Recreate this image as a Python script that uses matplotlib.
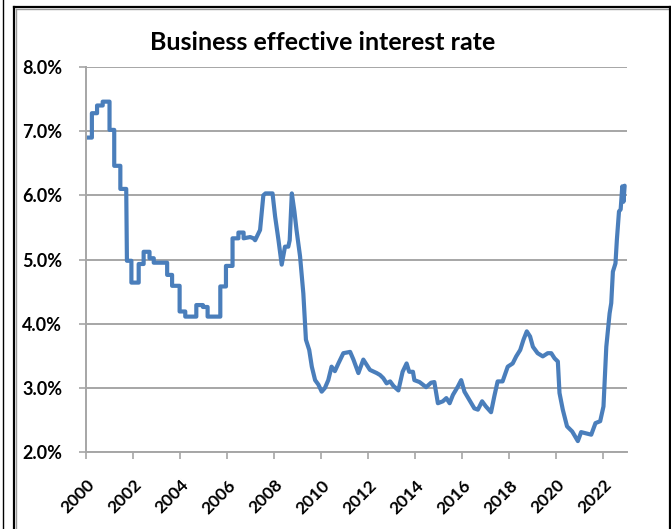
import matplotlib
matplotlib.use("Agg")
import matplotlib.pyplot as plt
from matplotlib.lines import Line2D
from matplotlib.ticker import FuncFormatter

# ---- data (decimal year, percent) ----
dates = [2000.0, 2000.25, 2000.25, 2000.47, 2000.47, 2000.71, 2000.71, 2001.0, 2001.0, 2001.2,
         2001.2, 2001.46, 2001.46, 2001.71, 2001.74, 2001.93, 2001.93, 2002.24, 2002.24, 2002.45,
         2002.45, 2002.7, 2002.7, 2002.88, 2002.88, 2003.45, 2003.45, 2003.66, 2003.66, 2003.98,
         2003.98, 2004.22, 2004.22, 2004.69, 2004.69, 2004.97, 2004.97, 2005.17, 2005.17, 2005.71,
         2005.71, 2005.95, 2005.95, 2006.23, 2006.23, 2006.48, 2006.48, 2006.7, 2006.7, 2006.98,
         2007.12, 2007.19, 2007.4, 2007.54, 2007.63, 2007.8, 2007.93, 2008.04, 2008.18, 2008.32,
         2008.46, 2008.6, 2008.66, 2008.75, 2008.86, 2008.95, 2009.1, 2009.24, 2009.35, 2009.49,
         2009.6, 2009.74, 2009.88, 2010.02, 2010.16, 2010.3, 2010.44, 2010.58, 2010.73, 2010.94,
         2011.23, 2011.37, 2011.58, 2011.79, 2012.07, 2012.36, 2012.5, 2012.64, 2012.78, 2012.93,
         2013.07, 2013.28, 2013.46, 2013.63, 2013.74, 2013.9, 2013.96, 2014.18, 2014.46, 2014.67,
         2014.81, 2014.96, 2015.17, 2015.32, 2015.46, 2015.6, 2015.81, 2015.95, 2016.09, 2016.3,
         2016.51, 2016.66, 2016.84, 2017.0, 2017.22, 2017.36, 2017.5, 2017.71, 2017.93, 2018.14,
         2018.29, 2018.46, 2018.6, 2018.74, 2018.88, 2019.0, 2019.2, 2019.42, 2019.63, 2019.78,
         2019.92, 2020.06, 2020.13, 2020.27, 2020.45, 2020.67, 2020.91, 2021.05, 2021.26, 2021.48,
         2021.66, 2021.86, 2022.0, 2022.12, 2022.26, 2022.33, 2022.4, 2022.51, 2022.57, 2022.66,
         2022.73, 2022.8, 2022.85, 2022.9]
rates = [6.90, 6.90, 7.28, 7.28, 7.40, 7.40, 7.46, 7.46, 7.02, 7.02,
         6.46, 6.46, 6.10, 6.10, 4.98, 4.98, 4.64, 4.64, 4.93, 4.93,
         5.12, 5.12, 5.02, 5.02, 4.95, 4.95, 4.76, 4.76, 4.59, 4.59,
         4.19, 4.19, 4.11, 4.11, 4.29, 4.29, 4.26, 4.26, 4.11, 4.11,
         4.58, 4.58, 4.90, 4.90, 5.33, 5.33, 5.42, 5.42, 5.33, 5.35,
         5.33, 5.30, 5.46, 6.00, 6.03, 6.03, 6.03, 5.67, 5.31, 4.92,
         5.20, 5.20, 5.30, 6.03, 5.75, 5.46, 5.05, 4.47, 3.75, 3.59,
         3.33, 3.12, 3.05, 2.94, 3.00, 3.12, 3.33, 3.26, 3.38, 3.54,
         3.56, 3.44, 3.23, 3.44, 3.28, 3.23, 3.20, 3.15, 3.07, 3.10,
         3.03, 2.96, 3.25, 3.38, 3.25, 3.25, 3.12, 3.09, 3.01, 3.08,
         3.09, 2.76, 2.79, 2.84, 2.76, 2.89, 3.02, 3.12, 2.94, 2.81,
         2.68, 2.66, 2.79, 2.71, 2.62, 2.87, 3.10, 3.10, 3.33, 3.38,
         3.49, 3.59, 3.75, 3.88, 3.80, 3.64, 3.54, 3.49, 3.54, 3.54,
         3.46, 3.41, 2.92, 2.66, 2.40, 2.32, 2.17, 2.31, 2.29, 2.27,
         2.45, 2.48, 2.71, 3.64, 4.16, 4.32, 4.81, 4.94, 5.31, 5.75,
         5.78, 6.14, 5.90, 6.15]

title = "Business effective interest rate"
x_ticks = list(range(2000, 2023, 2))
y_ticks = [2.0, 3.0, 4.0, 5.0, 6.0, 7.0, 8.0]

W, H = 671, 529
fig = plt.figure(figsize=(W / 100, H / 100), dpi=100)
fig.patch.set_facecolor("white")

x0, x1, yb, yt = 86, 627, 452, 67
ax = fig.add_axes([x0 / W, 1 - yb / H, (x1 - x0) / W, (yb - yt) / H])

ax.plot(dates, rates, color="#4A7EBB", lw=3.0, solid_joinstyle="round", solid_capstyle="round")

ax.set_xlim(2000, 2023)
ax.set_ylim(2.0, 8.0)
ax.set_xticks(x_ticks)
ax.set_yticks(y_ticks)
ax.yaxis.set_major_formatter(FuncFormatter(lambda v, p: f"{v:.1f}%"))
ax.grid(axis="y", color="#A6A6A6", lw=1.4)
ax.set_axisbelow(True)
for s in ["top", "right"]:
    ax.spines[s].set_visible(False)
for s in ["left", "bottom"]:
    ax.spines[s].set_color("#A6A6A6")
    ax.spines[s].set_linewidth(1.4)

fam = ["Lato", "DejaVu Sans"]
ax.tick_params(axis="both", direction="out", length=5, width=1.2, color="#A6A6A6")
ax.tick_params(axis="y", pad=12)
for lab in ax.get_yticklabels():
    lab.set_fontfamily(fam)
    lab.set_fontweight("bold")
    lab.set_fontsize(13)
for lab in ax.get_xticklabels():
    lab.set_fontfamily(fam)
    lab.set_fontweight("bold")
    lab.set_fontsize(12.5)
    lab.set_rotation(45)
    lab.set_ha("right")
    lab.set_va("top")
    lab.set_rotation_mode("anchor")
ax.tick_params(axis="x", pad=13)

fig.text(323 / W, 1 - 43 / H, title, ha="center", va="center",
         fontsize=18, fontweight="bold", family=fam)

# outer frames
def fline(xa, ya, xb, yb_, **kw):
    fig.add_artist(Line2D([xa / W, xb / W], [1 - ya / H, 1 - yb_ / H],
                          transform=fig.transFigure, **kw))

fline(3, 0, 3, H, color="black", lw=1.0)
fline(13.5, 7, 13.5, H, color="black", lw=1.6)
fline(15.5, 9, 15.5, H, color="#9A9A9A", lw=1.0)
fline(13.5, 7, 670, 7, color="black", lw=1.6)
fline(15.5, 9, 668, 9, color="#9A9A9A", lw=1.0)
fline(669.5, 7, 669.5, H, color="black", lw=1.6)

fig.savefig("out.png", dpi=100, facecolor="white")
